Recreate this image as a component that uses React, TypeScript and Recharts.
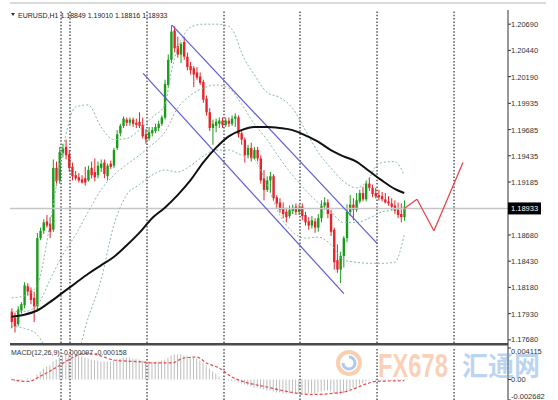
import React from "react";
import { ComposedChart, Bar, Line, XAxis, YAxis, ReferenceLine } from "recharts";

// EURUSD H1 candles: [open, high, low, close]
const candles: number[][] = [
  [1.1795, 1.1798, 1.1779, 1.1785], [1.1789, 1.1794, 1.1775, 1.1781], [1.1783, 1.18, 1.1781, 1.1797],
  [1.1796, 1.1804, 1.1793, 1.1802], [1.1801, 1.1823, 1.1798, 1.182], [1.1819, 1.1822, 1.181, 1.1814],
  [1.1815, 1.1818, 1.1802, 1.1806], [1.1808, 1.1814, 1.1785, 1.18], [1.18, 1.187, 1.1795, 1.1865],
  [1.1865, 1.1875, 1.1863, 1.1872], [1.1872, 1.1883, 1.1869, 1.188], [1.1881, 1.1887, 1.1875, 1.1877],
  [1.1879, 1.1885, 1.1865, 1.1871], [1.1873, 1.194, 1.1871, 1.1932], [1.1932, 1.1938, 1.1915, 1.1919],
  [1.192, 1.1952, 1.1917, 1.1947], [1.1946, 1.1955, 1.1942, 1.1951], [1.1952, 1.1959, 1.194, 1.1944],
  [1.1945, 1.1949, 1.1928, 1.1932], [1.1933, 1.1937, 1.192, 1.1924], [1.1925, 1.1929, 1.192, 1.1922],
  [1.1923, 1.1927, 1.1918, 1.192], [1.1921, 1.1925, 1.1917, 1.1918], [1.1922, 1.1933, 1.1915, 1.1918],
  [1.192, 1.1934, 1.1919, 1.193], [1.1932, 1.1938, 1.1922, 1.1925], [1.1928, 1.1941, 1.1919, 1.1923],
  [1.1925, 1.1938, 1.1922, 1.1934], [1.1932, 1.194, 1.1928, 1.1936], [1.1937, 1.194, 1.1922, 1.1926],
  [1.1924, 1.1936, 1.192, 1.1934], [1.1936, 1.1939, 1.1931, 1.1933], [1.1934, 1.1951, 1.1932, 1.1949],
  [1.1951, 1.1968, 1.1949, 1.1964], [1.1965, 1.1974, 1.1962, 1.1972], [1.1972, 1.1981, 1.197, 1.1979],
  [1.1978, 1.198, 1.1972, 1.1975], [1.1975, 1.198, 1.1972, 1.1978], [1.1978, 1.198, 1.1971, 1.1974],
  [1.1975, 1.1979, 1.197, 1.1973], [1.1976, 1.1985, 1.197, 1.1972], [1.1973, 1.198, 1.196, 1.1962],
  [1.1964, 1.1969, 1.1955, 1.1959], [1.196, 1.1971, 1.1958, 1.1966], [1.1965, 1.1971, 1.1962, 1.1968],
  [1.1967, 1.1974, 1.1965, 1.1971], [1.197, 1.1977, 1.1967, 1.1974], [1.1974, 1.1982, 1.1972, 1.198],
  [1.198, 1.2016, 1.1978, 1.2012], [1.2011, 1.204, 1.2008, 1.2035], [1.2035, 1.2068, 1.2032, 1.2062],
  [1.2063, 1.2067, 1.2042, 1.2046], [1.2048, 1.2057, 1.2037, 1.204], [1.204, 1.2052, 1.2032, 1.205],
  [1.2052, 1.2057, 1.2035, 1.2038], [1.2038, 1.2042, 1.2025, 1.2028], [1.2029, 1.2033, 1.2021, 1.2025],
  [1.2027, 1.2029, 1.2009, 1.2021], [1.2023, 1.2028, 1.2016, 1.2018], [1.2019, 1.2023, 1.2011, 1.2013],
  [1.2014, 1.2016, 1.1994, 1.1997], [1.1998, 1.2001, 1.1982, 1.1985], [1.1985, 1.1989, 1.1967, 1.197],
  [1.197, 1.1978, 1.1954, 1.1974], [1.1972, 1.1979, 1.1966, 1.1976], [1.1974, 1.198, 1.197, 1.1977],
  [1.1977, 1.198, 1.197, 1.1973], [1.1973, 1.198, 1.1971, 1.1977], [1.1977, 1.198, 1.1971, 1.1974],
  [1.1974, 1.1982, 1.1972, 1.1979], [1.1979, 1.1984, 1.1971, 1.1981], [1.198, 1.1982, 1.1961, 1.1964],
  [1.1965, 1.1968, 1.1954, 1.1959], [1.1959, 1.1961, 1.1937, 1.1944], [1.1944, 1.1954, 1.1941, 1.1951],
  [1.1951, 1.1956, 1.1938, 1.1941], [1.1941, 1.1952, 1.194, 1.1949], [1.1949, 1.1952, 1.1938, 1.1941],
  [1.1941, 1.1944, 1.1917, 1.192], [1.1922, 1.193, 1.1901, 1.1911], [1.1911, 1.1924, 1.1909, 1.192],
  [1.192, 1.1928, 1.1908, 1.1924], [1.1924, 1.1926, 1.19, 1.1903], [1.1904, 1.1906, 1.1894, 1.1898],
  [1.1899, 1.1903, 1.1889, 1.1892], [1.1894, 1.1899, 1.1884, 1.1888], [1.189, 1.1894, 1.188, 1.1885],
  [1.1886, 1.1896, 1.1884, 1.1892], [1.1891, 1.1897, 1.1888, 1.1894], [1.1895, 1.1898, 1.1887, 1.189],
  [1.189, 1.1897, 1.1887, 1.1894], [1.1895, 1.1898, 1.1882, 1.1886], [1.1887, 1.189, 1.1877, 1.188],
  [1.1881, 1.1885, 1.1873, 1.1877], [1.1877, 1.1886, 1.1874, 1.1882], [1.1881, 1.1884, 1.187, 1.1875],
  [1.1875, 1.1888, 1.1871, 1.1884], [1.1884, 1.1901, 1.188, 1.1896], [1.1896, 1.1904, 1.1892, 1.1899],
  [1.1899, 1.1902, 1.1884, 1.1888], [1.1888, 1.1892, 1.1867, 1.1871], [1.1873, 1.1875, 1.1835, 1.1842],
  [1.1844, 1.1859, 1.1832, 1.1835], [1.1835, 1.1852, 1.1822, 1.1848], [1.1848, 1.1867, 1.1837, 1.1865],
  [1.1865, 1.1897, 1.1861, 1.189], [1.189, 1.1906, 1.1886, 1.1897], [1.1897, 1.1903, 1.1882, 1.1892],
  [1.1892, 1.1908, 1.189, 1.1901], [1.19, 1.1911, 1.1898, 1.1908], [1.1908, 1.1914, 1.19, 1.1902],
  [1.1902, 1.192, 1.19, 1.1917], [1.1917, 1.1923, 1.191, 1.1913], [1.1913, 1.1916, 1.1904, 1.1907],
  [1.1908, 1.1913, 1.1903, 1.1905], [1.1906, 1.1911, 1.1901, 1.1904], [1.1905, 1.1909, 1.19, 1.1902],
  [1.1902, 1.1908, 1.1898, 1.1899], [1.19, 1.1905, 1.1896, 1.1898], [1.1898, 1.1903, 1.1892, 1.1895],
  [1.1896, 1.1901, 1.1888, 1.1891], [1.1892, 1.1899, 1.1884, 1.1887], [1.1888, 1.1898, 1.188, 1.1885],
  [1.18849, 1.1901, 1.18816, 1.18933],
];

const LAST = 1.18933;
const SLOTS = 156; // candles plus empty hours to the right

// moving average and bollinger bands, sampled every few bars
const bandIdx = [0, 4, 8, 12, 16, 20, 24, 28, 32, 36, 40, 44, 48, 52, 56, 60, 64, 68, 72, 76, 80, 84, 88, 92, 96, 100, 104, 108, 112, 116, 120, 123];
const maVals = [1.179, 1.1792, 1.1796, 1.1804, 1.1813, 1.1822, 1.1831, 1.1839, 1.1847, 1.1858, 1.187, 1.1884, 1.1894, 1.1906, 1.192, 1.1937, 1.1951, 1.1962, 1.1968, 1.1971, 1.1971, 1.197, 1.1968, 1.1963, 1.1957, 1.1949, 1.1943, 1.1938, 1.1929, 1.192, 1.1912, 1.1908];
const midVals = [1.1795, 1.1795, 1.1801, 1.1825, 1.1849, 1.1868, 1.189, 1.1911, 1.1925, 1.1935, 1.1944, 1.1954, 1.1966, 1.1989, 1.2001, 1.2008, 1.2011, 1.2008, 1.1993, 1.1974, 1.1959, 1.1941, 1.1925, 1.1911, 1.1899, 1.189, 1.188, 1.188, 1.1884, 1.189, 1.1892, 1.1895];
const lowVals = [1.1781, 1.1779, 1.1773, 1.1754, 1.1746, 1.1751, 1.1789, 1.1825, 1.1877, 1.1906, 1.1916, 1.1925, 1.193, 1.1928, 1.1934, 1.1943, 1.1949, 1.1949, 1.1944, 1.194, 1.1916, 1.1887, 1.1871, 1.1865, 1.1866, 1.1859, 1.1844, 1.1842, 1.1841, 1.1841, 1.1842, 1.1868];
const upIdx = [0, 4, 8, 12, 16, 20, 24, 28, 32, 36, 40, 44, 48, 50, 52, 54, 56, 60, 64, 68, 70, 72, 76, 80, 84, 88, 92, 96, 100, 104, 108, 112, 114, 116, 120, 123];
const upVals = [1.1808, 1.181, 1.182, 1.1878, 1.1949, 1.199, 1.1992, 1.1971, 1.1959, 1.196, 1.1968, 1.198, 1.1992, 1.2023, 1.2046, 1.2059, 1.2066, 1.2069, 1.2069, 1.2067, 1.2059, 1.2042, 1.2021, 1.2004, 1.1999, 1.1989, 1.1968, 1.1947, 1.1932, 1.1919, 1.1913, 1.1922, 1.1933, 1.1937, 1.1938, 1.1925];

// MACD(12,26,9): main per bar, signal sampled
const macdMain = [
  -0.00013, -0.00026, -0.00026, -0.00013, 0, 0.00013, 0.00013, 0, 0.00065, 0.00105,
  0.00144, 0.0017, 0.00183, 0.00235, 0.00261, 0.00288, 0.00314, 0.00327, 0.00327, 0.00327,
  0.00314, 0.00314, 0.00301, 0.00288, 0.00274, 0.00261, 0.00248, 0.00248, 0.00235, 0.00235,
  0.00235, 0.00235, 0.00248, 0.00261, 0.00274, 0.00288, 0.00288, 0.00288, 0.00274, 0.00274,
  0.00261, 0.00248, 0.00235, 0.00235, 0.00235, 0.00235, 0.00235, 0.00248, 0.00261, 0.00288,
  0.00314, 0.00327, 0.00327, 0.00327, 0.00314, 0.00314, 0.00301, 0.00288, 0.00274, 0.00248,
  0.00222, 0.00183, 0.00144, 0.00105, 0.00078, 0.00039, 0.00013, 0, -0.00013, -0.00026,
  -0.00026, -0.00039, -0.00052, -0.00065, -0.00078, -0.00091, -0.00105, -0.00105, -0.00118, -0.00131,
  -0.00144, -0.00144, -0.00157, -0.0017, -0.0017, -0.00183, -0.00183, -0.00183, -0.00183, -0.00183,
  -0.00183, -0.00183, -0.00183, -0.00183, -0.00183, -0.00183, -0.0017, -0.00157, -0.00144, -0.00144,
  -0.00157, -0.00183, -0.00196, -0.00196, -0.00183, -0.00157, -0.00131, -0.00118, -0.00091, -0.00065,
  -0.00052, -0.00026, -0.00013, -0.00013, -0.00013, -0.00013, -0.00013, -0.00013, -0.00013, -0.00013,
  -0.00013, -0.00013, -0.00013, -0.000097,
];
const sigIdx = [0, 5, 10, 15, 18, 23, 27, 32, 41, 45, 50, 54, 58, 61, 65, 69, 73, 80, 84, 94, 104, 112, 114, 123];
const sigVals = [0, -0.00026, 0.00065, 0.00183, 0.00261, 0.0034, 0.0032, 0.00255, 0.00229, 0.00216, 0.00216, 0.00281, 0.00294, 0.00216, 0.0015, 0.00033, -0.00033, -0.00098, -0.00137, -0.00196, -0.00163, -0.00046, -0.00026, -0.000158];

// hand drawn objects (bar position, price)
const daySeps = [15.48, 18.3, 42.42, 66.54, 90.35, 114.47, 138.6];
const channelTop = [{ x: 50.25, y: 1.2068 }, { x: 114.5, y: 1.186 }];
const channelBottom = [{ x: 41.2, y: 1.2022 }, { x: 104.1, y: 1.1812 }];
const projection = [
  { x: 123, y: 1.18933 },
  { x: 127, y: 1.1902 },
  { x: 132.3, y: 1.1872 },
  { x: 141.4, y: 1.1937 },
];

const priceTicks = [1.2069, 1.2044, 1.2019, 1.19935, 1.19685, 1.19435, 1.19185, 1.18933, 1.1868, 1.1843, 1.1818, 1.1793, 1.1768];
const macdTicks = [0.004115, 0, -0.002682];

const rows: any[] = Array.from({ length: SLOTS }, (_, i) => {
  const r: any = { i };
  const c = candles[i];
  if (c) {
    r.o = c[0];
    r.h = c[1];
    r.l = c[2];
    r.c = c[3];
    r.macd = macdMain[i];
  }
  return r;
});
bandIdx.forEach((k, j) => {
  rows[k].ma = maVals[j];
  rows[k].mid = midVals[j];
  rows[k].lo = lowVals[j];
});
upIdx.forEach((k, j) => {
  rows[k].up = upVals[j];
});
sigIdx.forEach((k, j) => {
  rows[k].sig = sigVals[j];
});

const FONT = "'Liberation Sans', Arial, sans-serif";
const SEP = "#4a4a4a";
const BAND = "#88b9a9";

function Candle(props: any) {
  const { x, y, width, height, payload } = props;
  if (!payload || payload.h == null || height == null) return null;
  const top = Math.min(y, y + height);
  const span = Math.abs(height);
  const k = span / (payload.h - payload.l);
  const yOf = (v: number) => top + (payload.h - v) * k;
  const up = payload.c >= payload.o;
  const color = up ? "#1b9c1b" : "#e3262b";
  const cx = x + width / 2;
  const bTop = yOf(Math.max(payload.o, payload.c));
  const bBot = yOf(Math.min(payload.o, payload.c));
  return (
    <g>
      <line x1={cx} x2={cx} y1={top} y2={top + span} stroke={color} strokeWidth={1} />
      <rect x={cx - 1.2} y={bTop} width={2.4} height={Math.max(bBot - bTop, 1)} fill={color} />
    </g>
  );
}

function PriceTick({ x, y, payload }: any) {
  const v = payload.value;
  const label = v.toFixed(5);
  if (v === LAST) {
    return (
      <g>
        <rect x={x - 3} y={y - 6} width={33} height={12} fill="#000" />
        <text x={x} y={y + 3} fontSize={7.5} fontFamily={FONT} fill="#fff">
          {label}
        </text>
      </g>
    );
  }
  const dy = v === 1.1768 ? 2 : 3;
  return (
    <text x={x} y={y + dy} fontSize={7.5} fontFamily={FONT} fill="#333">
      {label}
    </text>
  );
}

function MacdTick({ x, y, payload }: any) {
  const v = payload.value;
  const label = v === 0 ? "0.00" : v.toFixed(6);
  const dy = v > 0 ? 6 : v < 0 ? -1 : 3;
  return (
    <text x={x} y={y + dy} fontSize={7.5} fontFamily={FONT} fill="#333">
      {label}
    </text>
  );
}

function Separators() {
  return daySeps.map((s) => (
    <ReferenceLine key={s} xAxisId="n" x={s} stroke="#555" strokeWidth={1.5} strokeDasharray="1.5 1.8" />
  ));
}

export default function App() {
  return (
    <div style={{ position: "absolute", left: 0, top: 0, width: 558, height: 400, background: "#fff", overflow: "hidden" }}>
      <div style={{ position: "absolute", left: 0, top: 0 }}>
        <ComposedChart width={558} height={345} data={rows} margin={{ top: 10, right: 0, bottom: 2, left: 10 }}>
          <XAxis dataKey="i" type="category" hide />
          <XAxis xAxisId="n" dataKey="i" type="number" domain={[-0.5, SLOTS - 0.5]} allowDataOverflow hide />
          <YAxis
            orientation="right"
            width={50}
            domain={[1.1765, 1.20825]}
            allowDataOverflow
            ticks={priceTicks}
            interval={0}
            tick={<PriceTick />}
            tickSize={3}
            tickMargin={0}
            axisLine={{ stroke: "#333" }}
            tickLine={{ stroke: "#333" }}
          />
          {Separators()}
          <ReferenceLine y={LAST} stroke="#c6c6c6" strokeWidth={1.5} />
          <Line dataKey="up" type="monotone" connectNulls dot={false} stroke={BAND} strokeWidth={1} strokeDasharray="2 2" isAnimationActive={false} />
          <Line dataKey="mid" type="monotone" connectNulls dot={false} stroke={BAND} strokeWidth={1} strokeDasharray="2 2" isAnimationActive={false} />
          <Line dataKey="lo" type="monotone" connectNulls dot={false} stroke={BAND} strokeWidth={1} strokeDasharray="2 2" isAnimationActive={false} />
          <ReferenceLine xAxisId="n" segment={channelTop} stroke="#5c5cd8" strokeWidth={1.2} />
          <ReferenceLine xAxisId="n" segment={channelBottom} stroke="#5c5cd8" strokeWidth={1.2} />
          <Bar dataKey={(d: any) => (d.h == null ? null : [d.l, d.h])} shape={<Candle />} isAnimationActive={false} />
          <Line dataKey="ma" type="monotone" connectNulls dot={false} stroke="#111" strokeWidth={2} isAnimationActive={false} />
          {projection.slice(1).map((p, k) => (
            <ReferenceLine key={k} xAxisId="n" segment={[projection[k], p]} stroke="#e8474a" strokeWidth={1.3} />
          ))}
        </ComposedChart>
      </div>
      <div style={{ position: "absolute", left: 0, top: 345 }}>
        <ComposedChart width={558} height={55} data={rows} margin={{ top: 3, right: 0, bottom: 0, left: 10 }}>
          <XAxis dataKey="i" type="category" hide />
          <XAxis xAxisId="n" dataKey="i" type="number" domain={[-0.5, SLOTS - 0.5]} allowDataOverflow hide />
          <YAxis
            orientation="right"
            width={50}
            domain={[-0.002682, 0.004115]}
            allowDataOverflow
            ticks={macdTicks}
            interval={0}
            tick={<MacdTick />}
            tickSize={3}
            tickMargin={0}
            axisLine={{ stroke: "#333" }}
            tickLine={{ stroke: "#333" }}
          />
          {Separators()}
          <Bar dataKey="macd" barSize={1} fill="#bdbdbd" isAnimationActive={false} />
          <Line dataKey="sig" type="monotone" connectNulls dot={false} stroke="#e24a4a" strokeWidth={1.2} strokeDasharray="3 2" isAnimationActive={false} />
        </ComposedChart>
      </div>
      <svg width={558} height={400} style={{ position: "absolute", left: 0, top: 0, pointerEvents: "none" }}>
        <line x1={10} x2={546} y1={3} y2={3} stroke="#b5b5b5" strokeWidth={1} />
        <polygon points="11,13 15,13 13,16" fill="#333" />
        <text x={18} y={17.5} fontSize={7} fontFamily={FONT} fill="#222">
          EURUSD,H1  1.18849 1.19010 1.18816 1.18933
        </text>
        <rect x={10} y={343} width={498} height={2.5} fill={SEP} />
        <line x1={508} x2={508} y1={343} y2={348} stroke="#333" />
        <text x={11} y={355} fontSize={7} fontFamily={FONT} fill="#333">
          MACD(12,26,9) -0.000097 -0.000158
        </text>
        <circle cx={349} cy={363} r={11} fill="none" stroke="rgba(240,150,80,0.45)" strokeWidth={4} />
        <path d="M 349 357 A 6 6 0 1 1 343 363" fill="none" stroke="rgba(90,150,220,0.5)" strokeWidth={3} />
        <text x={378} y={377} fontSize={33} fontWeight="bold" fontFamily={FONT} fill="rgba(244,150,90,0.45)" textLength={70} lengthAdjust="spacingAndGlyphs">
          FX678
        </text>
        <text x={462} y={376} fontSize={27} fontWeight="bold" fontFamily="'Noto Sans CJK SC', sans-serif" fill="rgba(100,160,225,0.45)" textLength={78} lengthAdjust="spacingAndGlyphs">
          汇通网
        </text>
      </svg>
    </div>
  );
}
